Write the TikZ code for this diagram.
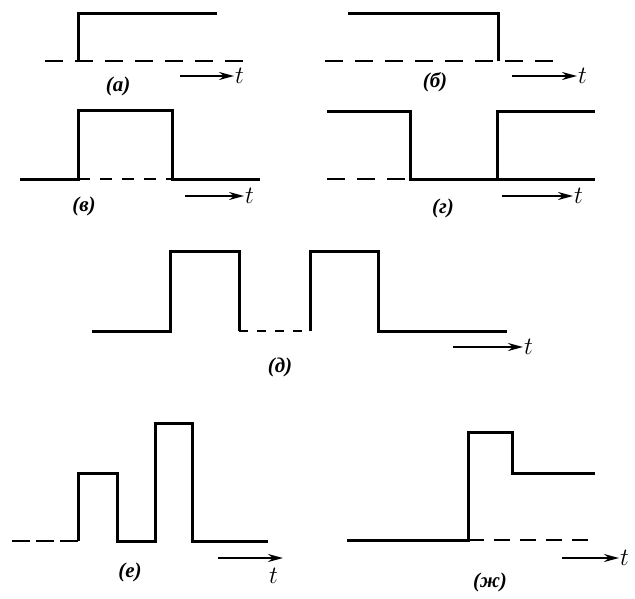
\documentclass[tikz,border=0pt]{standalone}
\usepackage{fontspec}
\newfontfamily\cyrfont{Liberation Serif}
\usetikzlibrary{arrows.meta}

\begin{document}
\begin{tikzpicture}[x=1pt,y=-1pt,
  wave/.style={line width=3pt,line join=miter},
  base/.style={line width=2.6pt,dash pattern=on 18pt off 12pt},
  axis/.style={line width=2pt,-{Stealth[length=15pt,width=8pt]}},
  tlabel/.style={font=\bfseries\fontsize{26}{28}\selectfont,inner sep=1pt,anchor=west},
  caption/.style={font=\cyrfont\bfseries\itshape\fontsize{21}{23}\selectfont}]
\useasboundingbox (0,0) rectangle (635,598);

% (a) switch-on step
\draw[base] (45,61) -- (245,61);
\draw[wave] (78,61) -- (78,13) -- (217,13);
\node[caption] (capa) at (118,86) {(а)};
\coordinate (ta0) at (180,76);
\node[tlabel] (ta) at (234,76) {$t$};
\draw[axis] (ta0) -- (ta.west);

% (b) switch-off step
\draw[base] (325,61) -- (553,61);
\draw[wave] (348,13) -- (498,13) -- (498,61);
\node[caption] (capb) at (435,82) {(б)};
\coordinate (tb0) at (512,76);
\node[tlabel] (tb) at (577,76) {$t$};
\draw[axis] (tb0) -- (tb.west);

% (v) single pulse
\draw[base,dash pattern=on 12pt off 10pt] (78,179) -- (172,179);
\draw[wave] (20,179) -- (78,179) -- (78,110) -- (172,110) -- (172,179) -- (260,179);
\node[caption] (capv) at (84,206) {(в)};
\coordinate (tv0) at (185,196);
\node[tlabel] (tv) at (244,196) {$t$};
\draw[axis] (tv0) -- (tv.west);

% (g) single gap
\draw[base,dash pattern=on 18pt off 12pt] (327,179) -- (410,179);
\draw[wave] (327,111) -- (410,111) -- (410,179) -- (497,179) -- (497,111) -- (595,111);
\draw[wave] (497,179) -- (595,179);
\node[caption] (capg) at (443,208) {(г)};
\coordinate (tg0) at (502,196);
\node[tlabel] (tg) at (573,196) {$t$};
\draw[axis] (tg0) -- (tg.west);

% (d) pulse train
\draw[base,dash pattern=on 9pt off 9pt] (239,331) -- (310,331);
\draw[wave] (92,331) -- (170,331) -- (170,251) -- (239,251) -- (239,331);
\draw[wave] (310,331) -- (310,251) -- (378,251) -- (378,331) -- (507,331);
\node[caption] (capd) at (280,367) {(д)};
\coordinate (td0) at (453,347);
\node[tlabel] (td) at (523,347) {$t$};
\draw[axis] (td0) -- (td.west);

% (e) pulses of different height
\draw[base,dash pattern=on 18pt off 6pt] (12,541) -- (78,541);
\draw[wave] (78,541) -- (78,473) -- (117,473) -- (117,541) -- (155,541)
  -- (155,423) -- (192,423) -- (192,541) -- (268,541);
\node[caption] (cape) at (130,572) {(е)};
\coordinate (te0) at (218,558);
\node[tlabel] (te) at (268,576) {$t$};
\draw[axis] (te0) -- (283,558);

% (zh) step with overshoot
\draw[base,dash pattern=on 16pt off 10pt] (468,540) -- (595,540);
\draw[wave] (347,540) -- (468,540) -- (468,432) -- (512,432) -- (512,473) -- (595,473);
\node[caption] (capzh) at (490,582) {(ж)};
\coordinate (tzh0) at (562,558);
\node[tlabel] (tzh) at (619,558) {$t$};
\draw[axis] (tzh0) -- (tzh.west);
\end{tikzpicture}
\end{document}
